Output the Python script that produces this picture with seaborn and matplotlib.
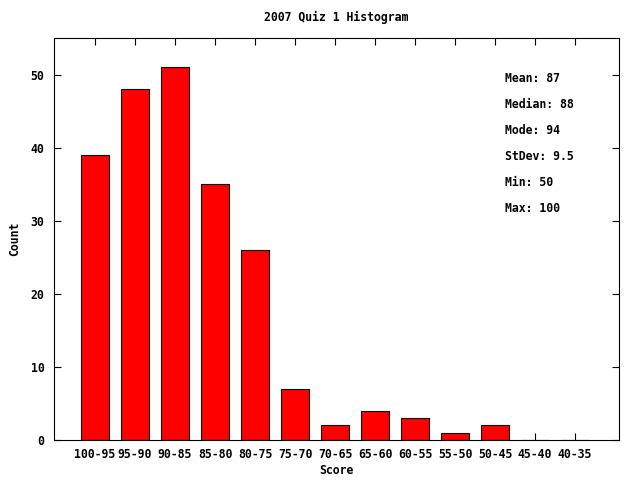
import matplotlib
matplotlib.use("Agg")
import matplotlib.pyplot as plt
import seaborn as sns
import pandas as pd

# score buckets and counts
bins = ["100-95", "95-90", "90-85", "85-80", "80-75", "75-70", "70-65",
        "65-60", "60-55", "55-50", "50-45", "45-40", "40-35"]
counts = [39, 48, 51, 35, 26, 7, 2, 4, 3, 1, 2, 0, 0]
stats = ["Mean: 87", "Median: 88", "Mode: 94", "StDev: 9.5", "Min: 50", "Max: 100"]

data = pd.DataFrame({"Score": bins, "Count": counts})

sns.set_style("white", {"text.color": "black", "axes.labelcolor": "black",
                        "xtick.color": "black", "ytick.color": "black",
                        "axes.edgecolor": "black"})
plt.rcParams["font.family"] = ["DejaVu Sans Mono"]
plt.rcParams["font.weight"] = "bold"

fs = 8.3
fig = plt.figure(figsize=(6.4, 4.8), dpi=100)
ax = fig.add_axes([54 / 640, 40 / 480, 565 / 640, 402 / 480])

sns.barplot(data=data, x="Score", y="Count", color="#ff0000", saturation=1,
            edgecolor="black", linewidth=0.8, width=0.72, ax=ax)

ax.set_xlim(-1.025, 13.1)
ax.set_ylim(0, 55)
ax.set_yticks([0, 10, 20, 30, 40, 50])
ax.tick_params(direction="in", length=5, width=0.8, labelsize=fs,
               top=True, right=True, bottom=True, left=True)
ax.tick_params(axis="x", pad=6)
ax.tick_params(axis="y", pad=7)
for lab in ax.get_xticklabels() + ax.get_yticklabels():
    lab.set_fontweight("bold")
for s in ax.spines.values():
    s.set_linewidth(0.8)

ax.set_xlabel("Score", fontsize=fs, fontweight="bold", labelpad=2)
ax.set_ylabel("Count", fontsize=fs, fontweight="bold", labelpad=7)
ax.set_title("2007 Quiz 1 Histogram", fontsize=fs, fontweight="bold", pad=12)

for i, s in enumerate(stats):
    fig.text(505 / 640, 1 - (78 + i * 26.2) / 480, s, fontsize=fs,
             fontweight="bold", va="center", ha="left")

fig.savefig("out.png", dpi=100)
